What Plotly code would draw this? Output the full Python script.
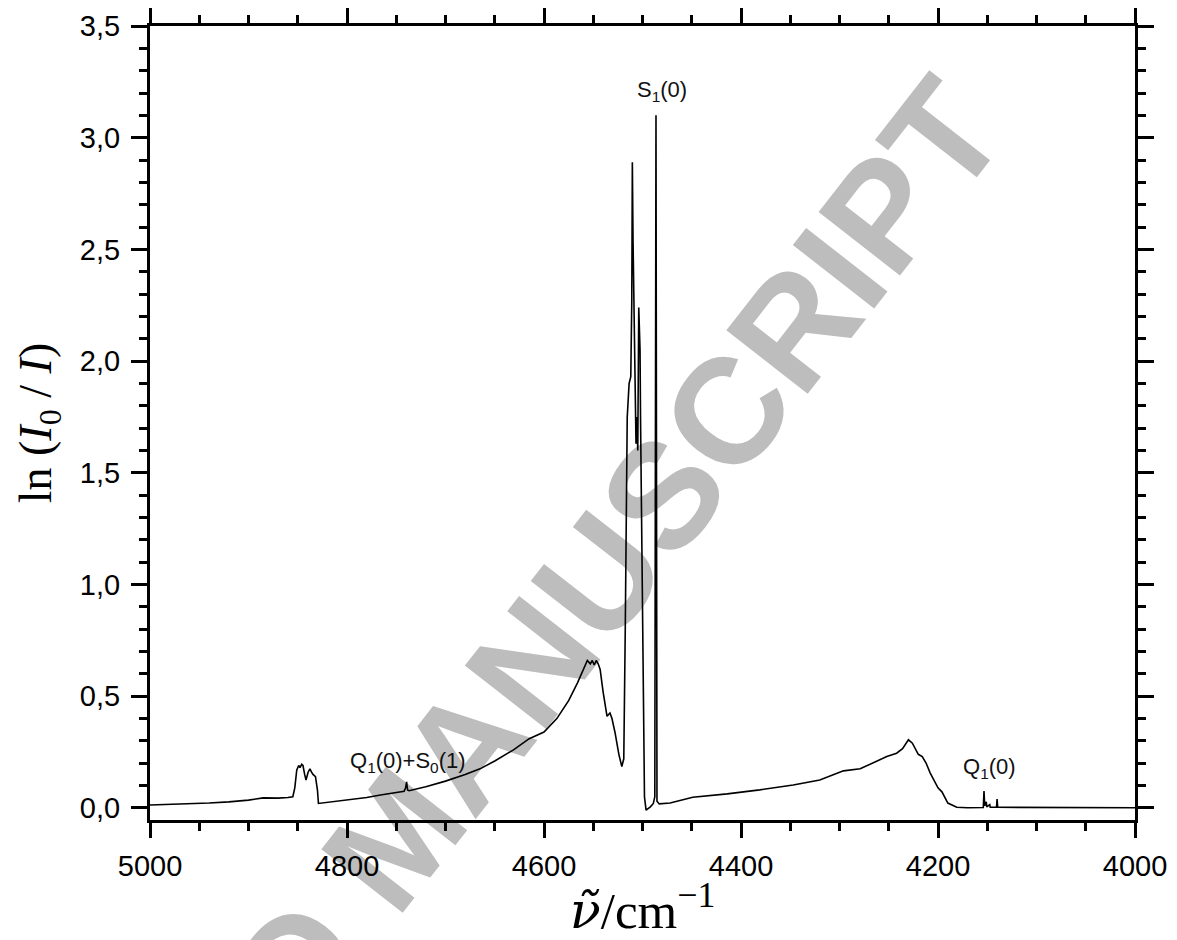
import plotly.graph_objects as go

# Spectrum: wavenumber (cm^-1) and ln(I0/I)
wavenumber = [
    5000, 4980, 4960, 4940, 4920, 4900, 4885, 4870, 4860, 4855,
    4853, 4851, 4849, 4847.7, 4846, 4844.7, 4843, 4841.6, 4839.5, 4837.6,
    4836, 4834.5, 4832, 4830, 4829, 4820, 4800, 4780, 4766, 4750,
    4742, 4740.5, 4739.5, 4738.5, 4737, 4720, 4700, 4680, 4665, 4650,
    4631, 4615, 4600, 4587, 4575, 4566, 4560, 4556, 4553, 4551,
    4549, 4547, 4545, 4543, 4540, 4536, 4533, 4531, 4528, 4524,
    4521, 4519, 4517.5, 4516.5, 4515.5, 4513.6, 4511.9, 4510.9, 4510.3, 4509.6,
    4508, 4506.6, 4505.6, 4504.8, 4503.8, 4503.0, 4502.5, 4502.0, 4501.0, 4499.5,
    4498.0, 4496.4, 4492, 4489, 4487.5, 4486.3, 4485.3, 4483, 4472, 4449,
    4414, 4381, 4347, 4320, 4305, 4296, 4279, 4266, 4252, 4242,
    4236, 4230, 4226, 4220, 4216, 4212, 4208, 4200, 4196, 4190,
    4181, 4170, 4160, 4154, 4153.3, 4152.6, 4151, 4150.5, 4147.5, 4147,
    4140.6, 4140, 4139.4, 4100, 4050, 4000,
]
absorbance = [
    0.013, 0.015, 0.018, 0.022, 0.027, 0.035, 0.045, 0.044, 0.047, 0.05,
    0.09, 0.17, 0.19, 0.18, 0.195, 0.19, 0.15, 0.125, 0.16, 0.175,
    0.16, 0.15, 0.14, 0.08, 0.02, 0.025, 0.035, 0.047, 0.058, 0.068,
    0.075, 0.09, 0.117, 0.08, 0.077, 0.095, 0.12, 0.15, 0.175, 0.21,
    0.26, 0.31, 0.34, 0.40, 0.48, 0.56, 0.62, 0.66, 0.645, 0.66,
    0.64, 0.66, 0.645, 0.62, 0.52, 0.41, 0.425, 0.40, 0.34, 0.24,
    0.185, 0.22, 0.80, 1.38, 1.75, 1.90, 1.93, 2.26, 2.89, 2.54,
    2.08, 1.63, 1.75, 1.60, 2.24, 2.11, 2.05, 1.75, 1.30, 0.60,
    0.05, -0.01, 0.005, 0.02, 0.05, 3.10, 0.03, 0.018, 0.022, 0.048,
    0.063, 0.081, 0.103, 0.125, 0.15, 0.166, 0.175, 0.20, 0.23, 0.245,
    0.265, 0.305, 0.29, 0.24, 0.23, 0.20, 0.157, 0.09, 0.072, 0.022,
    0.003, 0.001, 0.002, 0.002, 0.076, 0.01, 0.027, 0.005, 0.015, 0.003,
    0.003, 0.04, 0.003, 0.002, 0.001, 0.001,
]

x_ticks = [5000, 4800, 4600, 4400, 4200, 4000]
y_ticks = [0.0, 0.5, 1.0, 1.5, 2.0, 2.5, 3.0, 3.5]

labels = ["S<sub>1</sub>(0)", "Q<sub>1</sub>(0)+S<sub>0</sub>(1)", "Q<sub>1</sub>(0)"]
label_x = [4480, 4738, 4148]
label_y = [3.21, 0.205, 0.178]

fig = go.Figure()
fig.add_trace(go.Scatter(x=wavenumber, y=absorbance, mode="lines",
                         line=dict(color="black", width=1.6), showlegend=False))

for t, lx, ly in zip(labels, label_x, label_y):
    fig.add_annotation(x=lx, y=ly, text=t, showarrow=False,
                       font=dict(family="Liberation Sans, Arial", size=22, color="#111"))

# Watermark
fig.add_shape(type="line", xref="paper", yref="paper",
              x0=0.447, y0=0.321, x1=0.822, y1=0.917,
              line=dict(color="rgba(0,0,0,0)", width=0), layer="below",
              label=dict(text="<b>ACCEPTED MANUSCRIPT</b>", textposition="end",
                         xanchor="right", yanchor="middle",
                         font=dict(family="Liberation Sans", size=150,
                                   color="#bdbdbd")))

axis_common = dict(showline=True, linecolor="black", linewidth=3, mirror="ticks",
                   ticks="outside", tickwidth=2.5, tickcolor="black",
                   showgrid=False, zeroline=False, automargin=False,
                   tickfont=dict(family="Liberation Sans, Arial", size=29, color="black"))

fig.update_xaxes(range=[5000, 4000], tickvals=x_ticks, ticklen=15,
                 minor=dict(dtick=50, ticks="outside", ticklen=8, tickwidth=2.5, tickcolor="black"),
                 ticklabelstandoff=3,
                 title=dict(text="<span style=\"font-family:'DejaVu Serif'\"><i>ν̃</i></span>/cm<sup>−1</sup>",
                            standoff=14,
                            font=dict(family="Liberation Serif, DejaVu Serif", size=51, color="black")),
                 **axis_common)
fig.update_yaxes(range=[-0.054, 3.5], tickvals=y_ticks, tickformat=".1f", ticklen=16,
                 minor=dict(dtick=0.1, ticks="outside", ticklen=8, tickwidth=2.5, tickcolor="black"),
                 ticklabelstandoff=5,
                 title=dict(text="ln (<i>I</i><sub>0</sub> / <i>I</i>)", standoff=14,
                            font=dict(family="Liberation Serif, DejaVu Serif", size=46, color="black")),
                 **axis_common)

fig.update_layout(width=1169, height=932, separators=",.",
                  margin=dict(l=142, r=42, t=18, b=120),
                  paper_bgcolor="white", plot_bgcolor="white")

fig.write_html("out.html")
